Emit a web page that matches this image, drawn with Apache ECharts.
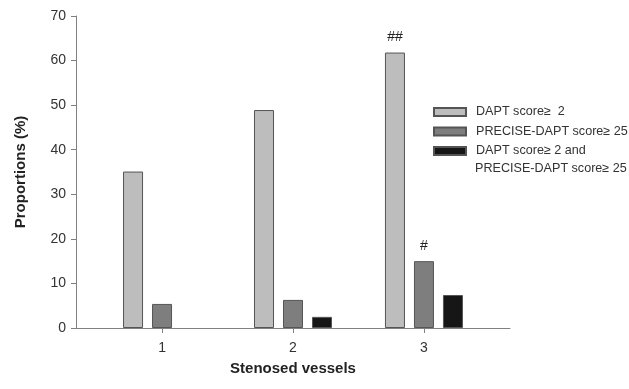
<!DOCTYPE html>
<html>
<head>
<meta charset="utf-8">
<script src="https://cdn.jsdelivr.net/npm/echarts@6/dist/echarts.min.js"></script>
<style>html,body{margin:0;padding:0;background:#fff;}#c{width:629px;height:389px;}</style>
</head>
<body>
<div id="c"></div>
<script>
var categories = [1, 2, 3];
var seriesNames = ['DAPT score\u2265  2', 'PRECISE-DAPT score\u2265 25', 'DAPT score\u2265 2 and PRECISE-DAPT score\u2265 25'];
var daptValues = [35.1, 48.9, 61.8];
var preciseValues = [5.4, 6.3, 15.0];
var bothValues = [null, 2.5, 7.4];
var daptMarks = ['', '', '##'];
var preciseMarks = ['', '', '#'];
var bothMarks = ['', '', ''];
var yTicks = [0, 10, 20, 30, 40, 50, 60, 70];

var FONT = 'Liberation Sans, Arial, sans-serif';
var colors = ['#bdbdbd', '#7e7e7e', '#161616'];

function makeData(vals, marks) {
  return categories.map(function (c, i) {
    var item = { value: [c, vals[i] == null ? '-' : vals[i]] };
    if (marks[i]) {
      item.label = { show: true, position: 'top', formatter: marks[i], distance: 8,
        fontFamily: FONT, fontSize: 14, color: '#222' };
    }
    return item;
  });
}

var vals = [daptValues, preciseValues, bothValues];
var marks = [daptMarks, preciseMarks, bothMarks];

var series = seriesNames.map(function (n, k) {
  return {
    type: 'bar', name: n,
    data: makeData(vals[k], marks[k]),
    barWidth: 20, barGap: '45%',
    itemStyle: { color: colors[k], borderColor: '#555', borderWidth: 1 },
    emphasis: { disabled: true }
  };
});

var chart = echarts.init(document.getElementById('c'), null, { renderer: 'canvas' });
chart.setOption({
  animation: false,
  backgroundColor: '#fff',
  grid: { left: 76, right: 119, top: 16, bottom: 61 },
  xAxis: {
    type: 'value', min: 0.343, max: 3.657,
    name: 'Stenosed vessels', nameLocation: 'middle', nameGap: 33,
    nameTextStyle: { fontFamily: FONT, fontSize: 15, fontWeight: 'bold', color: '#222' },
    axisLine: { show: true, lineStyle: { color: '#808080', width: 1 } },
    axisTick: { show: true, length: 5, customValues: categories, lineStyle: { color: '#808080' } },
    axisLabel: { customValues: categories, fontFamily: FONT, fontSize: 14, color: '#333', margin: 13 },
    splitLine: { show: false }
  },
  yAxis: {
    type: 'value', min: 0, max: 70, interval: 10,
    name: 'Proportions (%)', nameLocation: 'middle', nameGap: 48,
    nameTextStyle: { fontFamily: FONT, fontSize: 15, fontWeight: 'bold', color: '#222' },
    axisLine: { show: true, lineStyle: { color: '#808080', width: 1 } },
    axisTick: { show: true, length: 5, lineStyle: { color: '#808080' } },
    axisLabel: { fontFamily: FONT, fontSize: 14, color: '#333', margin: 10,
      customValues: yTicks },
    splitLine: { show: false }
  },
  legend: {
    orient: 'vertical', left: 433, top: 105, padding: 0,
    itemWidth: 32, itemHeight: 8, itemGap: 5.5,
    icon: 'rect',
    data: seriesNames,
    formatter: function (n) { return n === seriesNames[2] ? 'DAPT score\u2265 2 and' : n; },
    textStyle: { fontFamily: FONT, fontSize: 12.6, color: '#333', lineHeight: 14, padding: [0, 0, 0, 5] },
    selectedMode: false
  },
  graphic: [{
    type: 'text', left: 475, top: 162,
    style: { text: 'PRECISE-DAPT score\u2265 25', font: '12.6px ' + FONT, fill: '#333' }
  }],
  series: series
});
</script>
</body>
</html>
